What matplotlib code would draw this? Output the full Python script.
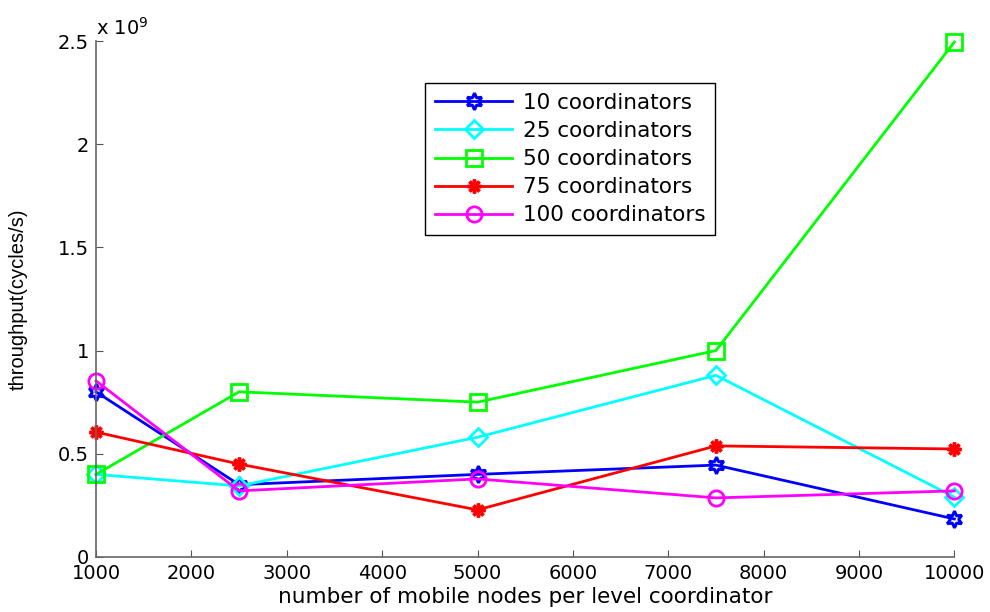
import numpy as np
import matplotlib
matplotlib.use('Agg')
import matplotlib.pyplot as plt

plt.rcParams['font.family'] = ['DejaVu Sans']

# data (throughput in units of 1e9 cycles/s)
nodes = [1000, 2500, 5000, 7500, 10000]
c10 = [0.80, 0.35, 0.40, 0.445, 0.184]
c25 = [0.40, 0.344, 0.58, 0.88, 0.29]
c50 = [0.40, 0.80, 0.75, 1.00, 2.495]
c75 = [0.605, 0.45, 0.228, 0.538, 0.523]
c100 = [0.853, 0.32, 0.378, 0.286, 0.32]
labels = ['10 coordinators', '25 coordinators', '50 coordinators',
          '75 coordinators', '100 coordinators']

fig = plt.figure(figsize=(9.9, 6.12), dpi=100)
ax = fig.add_axes([0.097, 0.090, 0.867, 0.843])

lw = 2.0
ax.plot(nodes, c10, color='#0000ff', lw=lw, marker=(6, 1, 0), ms=12,
        mfc='none', mec='#0000ff', mew=2.2, label=labels[0], clip_on=False)
ax.plot(nodes, c25, color='#00ffff', lw=lw, marker='D', ms=9,
        mfc='none', mec='#00ffff', mew=2.0, label=labels[1], clip_on=False)
ax.plot(nodes, c50, color='#00ff00', lw=lw, marker='s', ms=11,
        mfc='none', mec='#00ff00', mew=2.0, label=labels[2], clip_on=False)
ax.plot(nodes, c75, color='#ff0000', lw=lw, marker=(8, 2, 0), ms=10,
        mec='#ff0000', mew=2.5, label=labels[3], clip_on=False)
ax.plot(nodes, c100, color='#ff00ff', lw=lw, marker='o', ms=11,
        mfc='none', mec='#ff00ff', mew=2.0, label=labels[4], clip_on=False)

ax.set_xlim(1000, 10000)
ax.set_ylim(0, 2.5)
ax.set_xticks(np.arange(1000, 10001, 1000))
ax.set_yticks([0, 0.5, 1, 1.5, 2, 2.5])
ax.set_yticklabels(['0', '0.5', '1', '1.5', '2', '2.5'])
ax.tick_params(direction='in', length=5, labelsize=14, colors='#555555',
               labelcolor='black', pad=5)
for s in ['top', 'right']:
    ax.spines[s].set_visible(False)
for s in ['left', 'bottom']:
    ax.spines[s].set_color('#666666')
    ax.spines[s].set_linewidth(1.2)

ax.text(0.0, 1.005, r'x 10$^9$', transform=ax.transAxes, fontsize=14,
        ha='left', va='bottom')
ax.set_xlabel('number of mobile nodes per level coordinator', fontsize=15.5,
              labelpad=3)
ax.set_ylabel('throughput(cycles/s)', fontsize=14.5,
              family='Liberation Sans')
ax.yaxis.set_label_coords(-0.079, 0.5)

leg = ax.legend(loc='upper left', bbox_to_anchor=(0.3834, 0.9186),
                fontsize=15.5, handlelength=3.6, borderpad=0.45,
                labelspacing=0.38, borderaxespad=0, handletextpad=0.5,
                fancybox=False, framealpha=1, edgecolor='black')
leg.get_frame().set_linewidth(1.0)

fig.savefig('out.png', dpi=100)
